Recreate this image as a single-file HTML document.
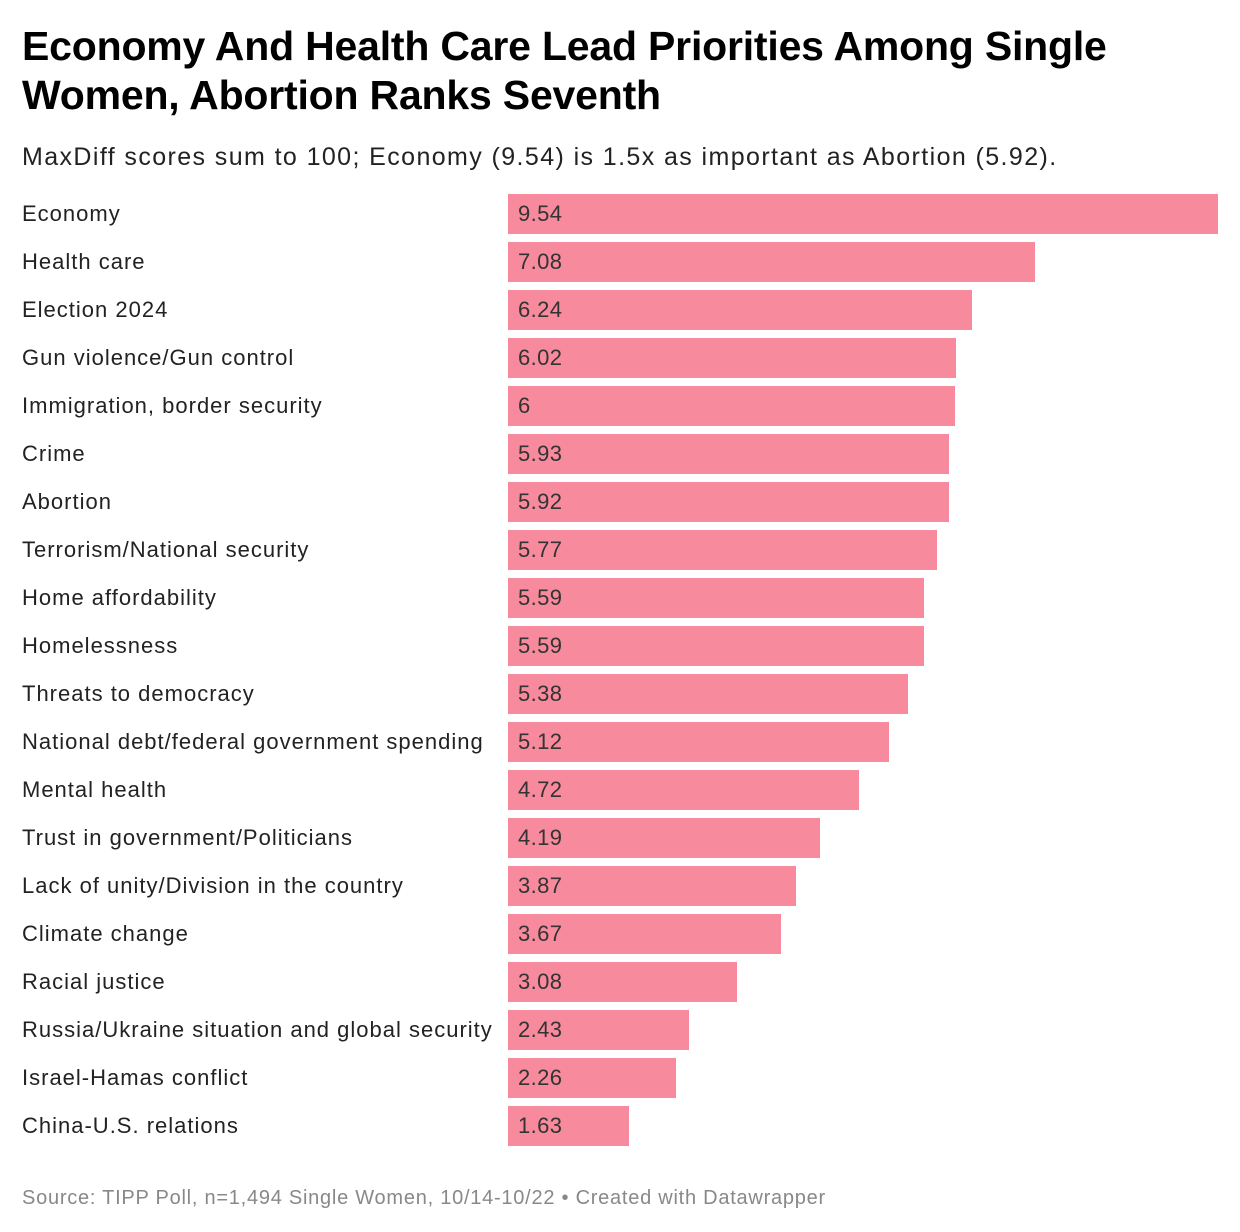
<!DOCTYPE html>
<html><head><meta charset="utf-8"><style>
body{margin:0;background:#fff;width:1240px;height:1232px;overflow:hidden;font-family:"Liberation Sans",sans-serif;position:relative}
h1{position:absolute;left:22px;top:22px;margin:0;font-size:41px;line-height:49px;font-weight:bold;color:#000;width:1160px;letter-spacing:-0.2px}
.sub{position:absolute;left:22px;top:143px;font-size:25px;color:#222;letter-spacing:1.4px;white-space:nowrap}
.lab{position:absolute;left:22px;font-size:22px;color:#222;height:40px;line-height:40px;white-space:nowrap;letter-spacing:1px}
.bar{position:absolute;left:508px;height:40px;background:#f78a9c}
.val{position:absolute;left:518px;font-size:22px;color:#333;height:40px;line-height:40px;letter-spacing:0.4px}
.src{position:absolute;left:22px;top:1187px;font-size:20px;color:#888;letter-spacing:0.75px;white-space:nowrap}
</style></head><body>
<h1>Economy And Health Care Lead Priorities Among Single Women, Abortion Ranks Seventh</h1>
<div class="sub">MaxDiff scores sum to 100; Economy (9.54) is 1.5x as important as Abortion (5.92).</div>
<div id="chart"></div>
<div class="src">Source: TIPP Poll, n=1,494 Single Women, 10/14-10/22 • Created with Datawrapper</div>
<script>
const categories=["Economy","Health care","Election 2024","Gun violence/Gun control","Immigration, border security","Crime","Abortion","Terrorism/National security","Home affordability","Homelessness","Threats to democracy","National debt/federal government spending","Mental health","Trust in government/Politicians","Lack of unity/Division in the country","Climate change","Racial justice","Russia/Ukraine situation and global security","Israel-Hamas conflict","China-U.S. relations"];
const values=[9.54,7.08,6.24,6.02,6,5.93,5.92,5.77,5.59,5.59,5.38,5.12,4.72,4.19,3.87,3.67,3.08,2.43,2.26,1.63];
const valueLabels=["9.54","7.08","6.24","6.02","6","5.93","5.92","5.77","5.59","5.59","5.38","5.12","4.72","4.19","3.87","3.67","3.08","2.43","2.26","1.63"];
const xScale=v=>v*(710/9.54);
const yScale=i=>194+i*48;
const c=document.getElementById('chart');
categories.forEach((cat,i)=>{
  const y=yScale(i);
  const l=document.createElement('div');l.className='lab';l.style.top=y+'px';l.textContent=cat;
  
  
  const b=document.createElement('div');b.className='bar';b.style.top=y+'px';b.style.width=xScale(values[i])+'px';
  
  
  const v=document.createElement('div');v.className='val';v.style.top=y+'px';v.textContent=valueLabels[i];
  
  
  c.appendChild(l);c.appendChild(b);c.appendChild(v);
});
</script>
</body></html>
